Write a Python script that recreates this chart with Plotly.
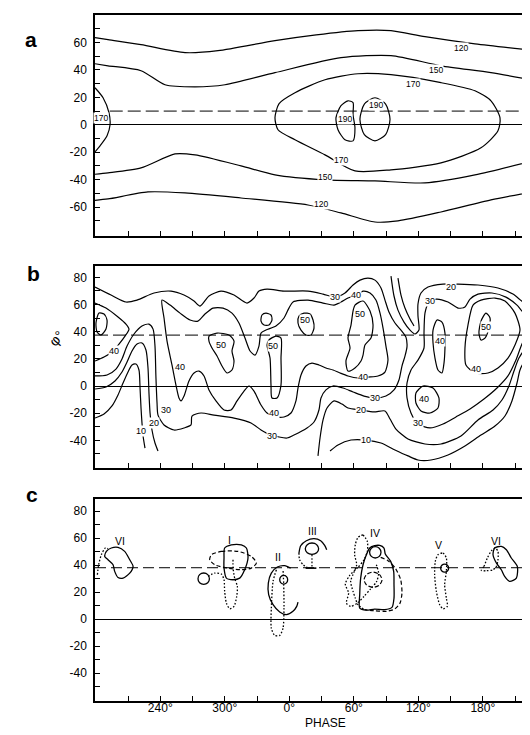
import plotly.graph_objects as go

# ---------------- axes / ticks ----------------
X_RANGE = [179.3, 590.4]
X_MAJOR = [240, 300, 360, 420, 480, 540]
X_LABELS = ['240°', '300°', '0°', '60°', '120°', '180°']
X_MINOR = [210, 270, 330, 390, 450, 510, 570]

YA_RANGE = [-81, 80]
YA_MAJOR = [-60, -40, -20, 0, 20, 40, 60]
YA_LABELS = ['-60', '-40', '-20', '0', '20', '40', '60']
YA_MINOR = [-70, -50, -30, -10, 10, 30, 50, 70]
YB_RANGE = [-60.4, 88.4]
YC_RANGE = [-60.7, 88.9]
YBC_MAJOR = [-40, -20, 0, 20, 40, 60, 80]
YBC_LABELS = ['-40', '-20', '0', '20', '40', '60', '80']
YBC_MINOR = [-50, -30, -10, 10, 30, 50, 70]

A_DASH_LAT = 10
B_DASH_LAT = 37.5
C_DASH_LAT = 38

# ---------------- panel a : (phase, latitude) ----------------
A_TOP120 = [(179.3, 63.5), (191.4, 62.0), (222.1, 58.4), (263.0, 52.6), (293.7, 54.0), (346.7, 61.3),
            (385.0, 65.5), (423.9, 68.6), (454.6, 68.6), (486.2, 64.2), (532.7, 59.0), (590.4, 54.0)]
A_TOP150 = [(179.3, 44.5), (191.4, 43.0), (222.1, 39.4), (244.4, 29.2), (272.3, 27.7), (300.2, 29.2),
            (346.7, 38.0), (408.1, 48.9), (454.6, 50.4), (501.1, 43.0), (547.6, 38.0), (590.4, 32.1)]
A_OVAL170 = [(346.7, 5.1), (350.5, 15.5), (365.3, 23.4), (393.2, 32.8), (423.9, 37.2), (454.6, 36.5),
             (501.1, 30.7), (532.7, 24.8), (547.6, 17.5), (556.0, 5.1), (554.1, -4.4), (538.3, -16.8),
             (501.1, -27.7), (454.6, -32.8), (421.1, -33.6), (393.2, -21.9), (365.3, -10.9),
             (349.5, -3.6), (346.7, 5.1)]
A_LEFT170 = [(179.3, 27.0), (186.8, 19.7), (192.3, 8.8), (193.3, 0.0), (190.5, -8.0), (184.0, -15.3),
             (179.3, -19.7)]
A_190L = [(414.6, 17.5), (408.1, 13.9), (403.4, 5.1), (405.3, -3.6), (411.8, -10.9), (419.3, -11.7),
          (421.1, -2.2), (419.3, 7.3), (419.3, 16.1), (414.6, 17.5)]
A_190R = [(439.7, 19.7), (449.6, 15.1), (453.7, 4.0), (449.6, -7.1), (439.7, -11.7), (429.8, -7.1),
          (425.7, 4.0), (429.8, 15.1), (439.7, 19.7)]
A_BOT150 = [(179.3, -36.0), (191.4, -35.0), (222.1, -31.4), (253.7, -21.2), (272.3, -21.9), (315.1, -29.9),
            (346.7, -36.5), (393.2, -40.1), (439.7, -40.9), (486.2, -42.3), (532.7, -36.5), (590.4, -25.5)]
A_BOT120 = [(179.3, -55.0), (191.4, -54.0), (228.6, -48.9), (263.0, -49.6), (315.1, -53.3), (377.4, -58.4),
            (408.1, -64.2), (439.7, -70.8), (461.1, -70.0), (501.1, -63.5), (547.6, -54.7), (590.4, -48.2)]
A_LABELS = [('120', 520.0, 55.7), ('150', 496.7, 39.6), ('170', 475.0, 29.4), ('190', 440.9, 14.4),
            ('190', 411.5, 3.9), ('170', 408.4, -25.3), ('150', 393.0, -38.2), ('120', 389.8, -57.7),
            ('170', 185.2, 5.1)]

# ---------------- panel b ----------------
B_30_MAIN = [(179.3, 72.9), (194.2, 67.0), (208.1, 61.9), (218.4, 63.3), (234.2, 68.5), (250.0, 69.9),
             (262.1, 67.0), (271.4, 62.6), (277.0, 58.9), (285.3, 66.3), (296.5, 69.9), (308.6, 67.0),
             (320.7, 61.1), (327.2, 64.8), (331.8, 69.9), (339.3, 71.4), (355.1, 69.9), (377.4, 69.9),
             (391.4, 67.7), (402.5, 65.5), (411.8, 68.5), (419.3, 74.4), (425.8, 78.0), (433.2, 79.5),
             (439.7, 78.0), (445.3, 72.2), (449.0, 63.3), (452.7, 54.5), (458.3, 46.4), (463.9, 41.2),
             (468.5, 36.0), (469.5, 29.0), (467.6, 22.0), (464.8, 14.7), (462.0, 4.4), (457.4, -2.9),
             (449.9, -7.4), (439.7, -8.8), (429.5, -7.4), (419.3, -4.4), (410.0, -1.5), (400.7, 0.0),
             (394.1, -2.9), (389.5, -8.8), (387.6, -17.7), (383.0, -26.5), (376.5, -30.9), (364.4, -36.1),
             (357.9, -38.3), (343.0, -36.1), (333.7, -32.4), (324.4, -27.2), (308.6, -23.6), (290.0, -21.4),
             (277.9, -19.9), (269.5, -22.1), (268.6, -28.7), (262.1, -30.9), (252.8, -32.4), (243.5, -28.7),
             (237.9, -21.4), (237.0, -12.5), (236.0, 5.9), (235.1, 29.4), (233.3, 41.9), (229.5, 45.6),
             (223.0, 44.2), (215.6, 38.3), (209.1, 29.4), (204.4, 19.9), (198.8, 12.5), (190.5, 8.1),
             (179.3, 7.4)]
B_OVAL = [(183.0, 53.7), (187.7, 53.0), (190.5, 48.6), (189.5, 42.0), (184.9, 37.6), (181.2, 39.8),
          (180.2, 46.4), (183.0, 53.7)]
B_LEFT40 = [(179.3, 61.1), (189.5, 57.4), (200.7, 50.8), (208.1, 45.6), (210.9, 41.9), (207.2, 36.8),
            (201.6, 30.9), (195.1, 25.0), (187.7, 21.3), (179.3, 18.4)]
B_20_LEFT = [(179.3, -2.2), (189.5, -0.7), (197.9, 3.7), (204.4, 10.3), (209.1, 17.7), (213.7, 25.8),
             (218.4, 30.9), (223.0, 31.7), (226.7, 26.5), (228.6, 13.3), (229.5, -5.2), (230.5, -19.9),
             (232.3, -32.4), (235.1, -42.0), (237.9, -47.9)]
B_10_LEFT = [(179.3, -23.6), (187.7, -20.6), (195.1, -14.7), (200.7, -6.6), (205.4, 2.2), (210.0, 10.3),
             (213.7, 15.5), (217.4, 16.2), (220.2, 11.8), (221.2, -1.5), (222.1, -16.2), (223.0, -27.2),
             (224.0, -36.8), (225.8, -45.7)]
B_BIG40 = [(241.6, 63.3), (243.5, 50.1), (246.3, 33.1), (250.9, 15.5), (254.6, 0.7), (257.4, -8.8),
           (259.3, -11.0), (262.1, -7.4), (266.7, 3.7), (271.4, 9.6), (276.0, 11.0), (280.7, 7.4),
           (285.3, -2.9), (291.8, -11.0), (299.3, -17.7), (305.8, -17.7), (311.4, -11.0), (317.9, -3.7),
           (322.5, 0.0), (327.2, -3.7), (333.7, -14.0), (339.3, -19.9), (347.6, -22.8), (355.1, -22.8),
           (361.6, -19.9), (366.2, -11.0), (368.1, -1.5), (370.9, 8.1), (375.5, 14.7), (381.1, 16.9),
           (387.6, 15.5), (394.1, 13.3), (400.7, 11.8), (407.2, 9.6), (414.6, 7.4), (423.9, 5.9),
           (433.2, 6.6), (442.5, 7.4), (449.0, 10.3), (451.8, 19.1), (449.9, 29.4), (447.2, 42.7),
           (444.4, 53.7), (440.6, 63.3), (435.1, 68.5), (428.6, 69.9), (422.0, 67.0), (414.6, 64.8),
           (408.1, 61.9), (401.6, 59.6), (391.4, 61.1), (377.4, 63.3), (363.5, 61.9), (359.7, 57.4),
           (355.1, 50.1), (347.6, 44.2), (338.3, 41.2), (333.7, 39.0), (331.8, 29.4), (328.1, 22.8),
           (323.5, 25.8), (318.8, 35.3), (313.2, 46.4), (306.7, 53.7), (298.4, 57.4), (289.0, 57.4),
           (281.6, 53.0), (275.1, 47.8), (267.7, 48.6), (258.4, 53.7), (249.1, 59.6), (241.6, 63.3)]
B_MID50 = [(421.1, 59.6), (428.6, 62.6), (435.1, 55.2), (437.9, 44.9), (436.0, 35.3), (430.4, 30.2),
           (428.6, 22.8), (426.7, 18.4), (421.1, 13.3), (414.6, 11.0), (412.7, 18.4), (416.5, 28.0),
           (414.6, 35.3), (417.4, 44.9), (419.3, 55.2), (421.1, 59.6)]
B_CIRCLE = [(338.3, 53.7), (343.0, 52.3), (343.9, 48.6), (341.1, 44.9), (336.5, 44.9), (333.7, 47.8),
            (334.6, 52.3), (338.3, 53.7)]
B_50A = [(373.7, 53.7), (379.3, 53.0), (382.1, 48.6), (383.0, 42.7), (380.2, 37.6), (375.5, 37.6),
         (370.9, 41.2), (368.1, 46.4), (369.0, 51.5), (373.7, 53.7)]
B_BLOB1 = [(285.3, 36.8), (292.8, 39.0), (303.9, 37.6), (308.6, 33.1), (306.7, 25.8), (308.6, 18.4),
           (306.7, 11.8), (302.1, 9.6), (297.4, 14.7), (292.8, 22.1), (288.1, 28.0), (285.3, 33.1),
           (285.3, 36.8)]
B_BLOB2 = [(341.1, 33.9), (347.6, 36.8), (352.3, 35.3), (352.3, 20.6), (352.3, 0.7), (348.6, -8.8),
           (343.9, -8.8), (343.0, 0.7), (342.1, 20.6), (339.3, 30.2), (341.1, 33.9)]
B_HAIRPIN = [(454.6, 81.0), (457.4, 66.3), (461.1, 55.9), (466.7, 47.1), (472.3, 41.2), (476.9, 38.3),
             (480.6, 41.2), (479.7, 51.5), (479.7, 60.4), (482.5, 68.5), (489.0, 72.9), (503.0, 75.1),
             (516.9, 75.1), (535.5, 74.4), (554.1, 72.2), (568.0, 67.7), (577.4, 61.9), (583.9, 59.6),
             (590.4, 64.0)]
B_HAIRPIN2 = [(461.1, 79.5), (463.9, 67.0), (467.6, 57.4), (472.3, 49.3), (476.0, 44.2)]
B_R30 = [(590.4, 44.2), (582.0, 39.0), (576.4, 30.9), (570.8, 19.1), (563.4, 7.4), (553.2, -1.5),
         (541.1, -9.6), (528.1, -16.9), (515.0, -22.8), (503.0, -28.0), (490.9, -30.9), (479.7, -28.0),
         (473.2, -19.9), (469.5, -8.8), (469.5, 2.2), (473.2, 11.8), (479.7, 19.1), (485.3, 28.0),
         (485.3, 39.0), (486.2, 53.7), (489.0, 60.4), (496.4, 64.0), (507.6, 61.9), (516.9, 57.4),
         (523.4, 58.2), (528.1, 64.0), (535.5, 67.7), (548.5, 68.5), (561.5, 65.5), (571.8, 59.6),
         (578.3, 53.7), (583.9, 52.3), (590.4, 55.2)]
B_LOW40 = [(484.4, 0.0), (493.7, -1.5), (499.2, -8.8), (498.3, -16.2), (490.9, -19.9), (482.5, -18.4),
           (477.8, -12.5), (477.8, -5.2), (484.4, 0.0)]
B_L40A = [(497.4, 48.6), (502.0, 47.1), (504.8, 39.0), (504.8, 28.0), (503.9, 16.9), (502.0, 9.6),
          (498.3, 11.8), (495.5, 20.6), (493.7, 31.7), (493.7, 41.2), (497.4, 48.6)]
B_40R = [(560.6, 62.6), (569.9, 53.7), (574.6, 41.2), (569.9, 30.2), (563.4, 20.6), (554.1, 13.3),
         (544.8, 9.6), (532.7, 9.6), (524.3, 15.5), (523.4, 28.0), (526.2, 44.9), (530.9, 59.6),
         (538.3, 63.3), (551.3, 64.8), (560.6, 62.6)]
B_50R = [(542.9, 53.7), (546.7, 50.1), (545.7, 42.7), (542.0, 35.3), (538.3, 33.9), (536.4, 39.0),
         (538.3, 47.8), (542.9, 53.7)]
B_20_RIGHT = [(386.7, -51.5), (388.6, -38.3), (391.4, -25.0), (395.1, -16.2), (401.6, -11.0), (409.0, -13.3),
              (414.6, -16.2), (426.7, -17.7), (438.8, -19.1), (449.0, -18.4), (453.7, -24.3), (459.2, -31.7),
              (470.4, -39.0), (486.2, -42.7), (501.1, -42.7), (519.7, -36.8), (535.5, -25.0), (549.5, -17.7),
              (557.8, -10.3), (564.3, 0.0), (569.0, 11.0), (573.6, 20.6), (579.2, 26.5), (584.8, 27.2),
              (588.5, 22.1), (589.4, 2.2), (589.4, -30.9), (590.4, -49.3)]
B_10_RIGHT = [(397.9, -47.9), (405.3, -43.4), (417.4, -39.8), (431.3, -39.8), (445.3, -42.0), (458.3, -47.1),
              (470.4, -51.5), (479.7, -54.5), (491.8, -54.5), (507.6, -50.8), (523.4, -44.2), (538.3, -36.1),
              (551.3, -29.5), (560.6, -22.1), (567.1, -11.0), (571.8, 2.2), (574.6, 11.8), (578.3, 16.9),
              (582.0, 15.5), (583.9, 5.9), (584.8, -12.5), (584.8, -30.9), (585.7, -49.3)]
B_LABELS = [('40', 197.0, 25.8), ('40', 258.5, 14.0), ('30', 245.3, -17.7), ('20', 234.2, -27.2),
            ('10', 222.1, -33.1), ('50', 296.5, 30.2), ('50', 344.9, 29.5), ('50', 374.6, 48.6),
            ('40', 345.8, -19.9), ('30', 343.9, -36.8), ('30', 402.5, 65.5), ('40', 422.0, 67.0),
            ('50', 425.8, 53.0), ('40', 428.6, 6.6), ('30', 439.7, -8.8), ('20', 426.7, -17.7),
            ('10', 431.3, -39.8), ('20', 510.4, 72.9), ('30', 490.9, 62.6), ('40', 500.2, 33.1),
            ('50', 542.9, 43.4), ('40', 533.6, 12.5), ('40', 485.3, -9.6), ('30', 479.7, -27.2)]

# ---------------- panel c ----------------
C_VI_L_SOLID = [(194.5, 52.6), (200.7, 53.1), (206.9, 50.1), (211.6, 43.9), (214.7, 39.0), (211.6, 34.0),
                (205.4, 30.3), (200.7, 30.8), (197.6, 35.3), (196.1, 40.2), (191.4, 43.9), (188.3, 46.4),
                (189.9, 50.1), (194.5, 52.6)]
C_VI_L_DOT = [(181.5, 32.8), (182.7, 40.2), (185.2, 47.6), (188.9, 52.6), (191.4, 52.1)]
C_I_SOLID = [(299.9, 52.6), (306.1, 55.0), (315.4, 55.0), (320.1, 52.6), (321.6, 45.2), (318.5, 36.5),
             (313.9, 30.3), (307.7, 29.1), (301.5, 30.3), (299.3, 37.7), (299.3, 45.2), (299.9, 52.6)]
C_I_DASH = [(287.5, 47.6), (296.8, 50.1), (312.3, 50.1), (324.7, 46.4), (329.4, 41.5), (324.7, 37.7),
            (315.4, 36.5), (303.0, 37.7), (290.6, 40.2), (286.0, 43.9), (287.5, 47.6)]
C_I_CIRCLE = [(280.4, 34.1), (284.2, 32.9), (285.7, 29.9), (284.2, 26.9), (280.4, 25.7), (276.6, 26.9),
              (275.1, 29.9), (276.6, 32.9), (280.4, 34.1)]
C_I_DOT = [(284.4, 31.6), (290.6, 34.0), (296.8, 33.3), (299.3, 29.1), (299.9, 20.5), (301.5, 11.8),
           (304.6, 7.6), (308.6, 9.4), (311.1, 16.8), (311.7, 24.2), (309.2, 30.3), (307.7, 37.7),
           (307.7, 45.2)]
C_II_SOLID = [(361.3, 37.7), (355.7, 39.5), (348.9, 38.5), (343.3, 34.0), (340.5, 26.6), (340.8, 18.0),
              (344.9, 10.6), (351.1, 5.2), (357.3, 3.2), (363.4, 5.7), (366.9, 9.4), (368.1, 12.6)]
C_II_CIRCLE = [(354.8, 32.3), (357.4, 31.4), (358.5, 29.1), (357.4, 26.8), (354.8, 25.9), (352.2, 26.8),
               (351.1, 29.1), (352.2, 31.4), (354.8, 32.3)]
C_II_DOT = [(348.0, 36.5), (344.9, 27.9), (343.3, 8.1), (343.3, -6.7), (346.4, -12.1), (351.1, -12.1),
            (354.2, -6.7), (355.1, 8.1), (354.8, 25.9), (354.2, 36.5)]
C_III_ARC = [(369.0, 48.9), (370.6, 54.3), (375.9, 58.0), (383.0, 59.5), (389.2, 58.0), (392.9, 54.5),
             (394.8, 51.3)]
C_III_CIRCLE = [(381.1, 56.3), (385.5, 55.1), (387.3, 52.1), (385.5, 49.1), (381.1, 47.9), (376.7, 49.1),
                (374.9, 52.1), (376.7, 55.1), (381.1, 56.3)]
C_III_DOT = [(369.0, 48.9), (369.6, 43.9), (372.8, 40.2), (376.5, 38.5)]
C_III_STEM = [(381.1, 47.6), (381.1, 37.7)]
C_III_BASE = [(375.2, 37.7), (385.2, 37.7)]
C_IV_SOLID = [(439.4, 54.3), (434.8, 52.6), (431.7, 47.6), (428.6, 40.2), (426.4, 30.3), (425.5, 18.0),
              (425.5, 8.1), (431.7, 6.6), (439.4, 7.4), (448.7, 6.9), (455.5, 8.6), (457.4, 15.5),
              (457.4, 25.4), (457.1, 35.3), (454.3, 42.7), (449.3, 48.1), (448.1, 52.6), (444.1, 54.5),
              (439.4, 54.3)]
C_IV_CIRCLE = [(440.0, 53.6), (443.7, 52.4), (445.3, 49.4), (443.7, 46.4), (440.0, 45.2), (436.3, 46.4),
               (434.7, 49.4), (436.3, 52.4), (440.0, 53.6)]
C_IV_DASH_OUT = [(445.0, 45.7), (451.8, 43.2), (458.6, 37.7), (463.6, 29.1), (464.8, 19.2), (463.0, 11.8),
                 (458.0, 7.4), (450.3, 5.7), (439.4, 6.1), (430.1, 6.9)]
C_IV_DASH_IN = [(437.9, 34.8), (443.8, 33.1), (446.3, 29.1), (443.8, 25.1), (437.9, 23.4), (432.0, 25.1),
                (429.5, 29.1), (432.0, 33.1), (437.9, 34.8)]
C_IV_DOT_A = [(428.6, 62.4), (432.6, 57.5), (432.6, 50.1), (429.5, 43.9), (423.3, 37.7), (416.2, 32.3),
              (412.1, 25.9), (415.2, 19.2), (413.1, 11.8), (417.1, 9.4), (423.3, 11.8), (429.5, 16.8),
              (435.7, 22.4), (441.3, 27.9), (443.1, 34.0), (441.0, 40.2)]
C_IV_DOT_B = [(428.6, 62.4), (423.9, 60.5), (421.4, 55.0), (420.8, 47.6), (422.7, 40.2), (420.2, 34.8),
              (417.1, 27.9), (419.3, 20.5), (421.4, 15.5), (423.9, 10.6), (430.1, 6.9)]
C_V_DOT = [(498.3, 47.6), (503.0, 48.9), (506.1, 45.2), (506.1, 35.3), (504.5, 25.4), (506.1, 15.5),
           (507.0, 9.4), (503.0, 7.6), (499.9, 10.6), (496.8, 20.5), (495.2, 32.8), (495.8, 42.7),
           (498.3, 47.6)]
C_V_CIRCLE = [(504.5, 40.7), (507.1, 39.8), (508.2, 37.7), (507.1, 35.6), (504.5, 34.7), (501.9, 35.6),
              (500.8, 37.7), (501.9, 39.8), (504.5, 40.7)]
C_VI_R_SOLID = [(551.0, 52.6), (557.2, 53.8), (561.9, 51.3), (566.5, 45.2), (572.1, 39.0), (571.2, 30.3),
                (565.0, 27.9), (560.3, 31.6), (557.2, 36.5), (552.6, 41.5), (549.5, 47.6), (551.0, 52.6)]
C_VI_R_DOT = [(538.6, 36.0), (541.1, 39.0), (544.2, 45.2), (548.0, 50.6), (551.6, 52.6), (554.1, 50.1),
              (554.1, 43.9), (552.6, 39.0), (549.5, 36.5), (543.3, 35.8), (538.6, 36.0)]
C_LABELS = [('VI', 203.0, 58.0), ('I', 304.6, 58.7), ('II', 349.5, 45.7), ('III', 382.0, 64.9),
            ('IV', 439.4, 63.7), ('V', 499.2, 55.0), ('VI', 552.5, 58.0)]

# ---------------- figure ----------------
fig = go.Figure()
DOT = '1.6px,1.8px'
DASHED = '4px,2.5px'


def add_curve(points, ax, dash='solid', width=1.2, smooth=True):
    fig.add_trace(go.Scatter(
        x=[p[0] for p in points], y=[p[1] for p in points], mode='lines',
        line=dict(color='black', width=width, dash=dash,
                  shape='spline' if smooth else 'linear', smoothing=0.7),
        xaxis='x' + ax, yaxis='y' + ax, hoverinfo='skip', showlegend=False))


def add_ref(lat, ax, dash, x0=None):
    fig.add_trace(go.Scatter(
        x=[X_RANGE[0] if x0 is None else x0, X_RANGE[1]], y=[lat, lat], mode='lines',
        line=dict(color='black', width=1, dash=dash),
        xaxis='x' + ax, yaxis='y' + ax, hoverinfo='skip', showlegend=False))


# panel a
add_ref(A_DASH_LAT, '', '13px,5px', x0=193)
for c in [A_TOP120, A_TOP150, A_OVAL170, A_LEFT170, A_190L, A_190R, A_BOT150, A_BOT120]:
    add_curve(c, '')

# panel b
add_ref(B_DASH_LAT, '2', '13px,5px')
for c in [B_30_MAIN, B_OVAL, B_LEFT40, B_20_LEFT, B_10_LEFT, B_BIG40, B_MID50, B_CIRCLE, B_50A,
          B_BLOB1, B_BLOB2, B_HAIRPIN, B_HAIRPIN2, B_R30, B_LOW40, B_L40A, B_40R, B_50R,
          B_20_RIGHT, B_10_RIGHT]:
    add_curve(c, '2')

# panel c
add_ref(C_DASH_LAT, '3', '11px,5px')
for c in [C_VI_L_SOLID, C_I_SOLID, C_I_CIRCLE, C_II_SOLID, C_II_CIRCLE, C_III_ARC, C_III_CIRCLE,
          C_IV_SOLID, C_IV_CIRCLE, C_V_CIRCLE, C_VI_R_SOLID]:
    add_curve(c, '3', width=1.3)
add_curve(C_III_BASE, '3', width=1.6, smooth=False)
for c in [C_VI_L_DOT, C_I_DOT, C_II_DOT, C_III_DOT, C_IV_DOT_A, C_IV_DOT_B, C_V_DOT, C_VI_R_DOT]:
    add_curve(c, '3', dash=DOT, width=1.3)
add_curve(C_III_STEM, '3', dash=DOT, width=1.2, smooth=False)
for c in [C_I_DASH, C_IV_DASH_OUT, C_IV_DASH_IN]:
    add_curve(c, '3', dash=DASHED, width=1.2)

annotations = []
for ax, labels, size in [('', A_LABELS, 8.5), ('2', B_LABELS, 9), ('3', C_LABELS, 10.5)]:
    for txt, x, y in labels:
        annotations.append(dict(x=x, y=y, xref='x' + ax, yref='y' + ax, text=txt, showarrow=False,
                                font=dict(size=size, color='black', family='Liberation Sans, Arial'),
                                bgcolor='white' if ax != '3' else 'rgba(0,0,0,0)', borderpad=0))

for letter, xp, yp in [('a', 14.5, 18), ('b', 16.5, 265.5), ('c', 16, 500)]:
    annotations.append(dict(x=xp / 530, y=1 - yp / 735, xref='paper', yref='paper', text='<b>%s</b>' % letter,
                            showarrow=False, font=dict(size=21, color='black', family='Liberation Sans, Arial')))
annotations.append(dict(x=317 / 530, y=1 - 724 / 735, xref='paper', yref='paper', text='PHASE', showarrow=False,
                        font=dict(size=12, color='black', family='Liberation Sans, Arial')))
annotations.append(dict(x=35 / 530, y=1 - 330 / 735, xref='paper', yref='paper', text='φ°', showarrow=False,
                        textangle=-50, font=dict(size=14, color='black', family='Liberation Sans, Arial')))

XDOM = [87 / 530, 529 / 530]


def xaxis(show_labels, anchor):
    return dict(domain=XDOM, range=X_RANGE, anchor=anchor, showgrid=False, zeroline=False,
                showline=True, mirror=True, linecolor='black', linewidth=1.5,
                ticks='inside', ticklen=5, tickwidth=1, tickcolor='black',
                tickmode='array', tickvals=X_MAJOR, ticktext=X_LABELS, showticklabels=show_labels,
                ticklabelstandoff=-5,
                tickfont=dict(size=12, color='black', family='Liberation Sans, Arial'),
                minor=dict(tickmode='array', tickvals=X_MINOR, ticks='inside', ticklen=5,
                           tickwidth=1, tickcolor='black', showgrid=False),
                fixedrange=True)


def yaxis(dom, rng, major, labels, minor, anchor):
    return dict(domain=dom, range=rng, anchor=anchor, showgrid=False,
                zeroline=True, zerolinecolor='black', zerolinewidth=1,
                showline=True, mirror=True, linecolor='black', linewidth=1.5,
                ticks='inside', ticklen=5, tickwidth=1, tickcolor='black',
                tickmode='array', tickvals=major, ticktext=labels, ticklabelstandoff=4,
                tickfont=dict(size=12, color='black', family='Liberation Sans, Arial'),
                minor=dict(tickmode='array', tickvals=minor, ticks='inside', ticklen=5,
                           tickwidth=1, tickcolor='black', showgrid=False),
                fixedrange=True)


fig.update_layout(
    width=530, height=735, margin=dict(l=0, r=0, t=0, b=0),
    paper_bgcolor='white', plot_bgcolor='white', showlegend=False,
    font=dict(family='Liberation Sans, Arial', size=12, color='black'),
    xaxis=xaxis(False, 'y'), xaxis2=xaxis(False, 'y2'), xaxis3=xaxis(True, 'y3'),
    yaxis=yaxis([1 - 228 / 735, 1 - 7 / 735], YA_RANGE, YA_MAJOR, YA_LABELS, YA_MINOR, 'x'),
    yaxis2=yaxis([1 - 460 / 735, 1 - 258 / 735], YB_RANGE, YBC_MAJOR, YBC_LABELS, YBC_MINOR, 'x2'),
    yaxis3=yaxis([1 - 693 / 735, 1 - 491 / 735], YC_RANGE, YBC_MAJOR, YBC_LABELS, YBC_MINOR, 'x3'),
    annotations=annotations,
)

fig.write_html('out.html')
